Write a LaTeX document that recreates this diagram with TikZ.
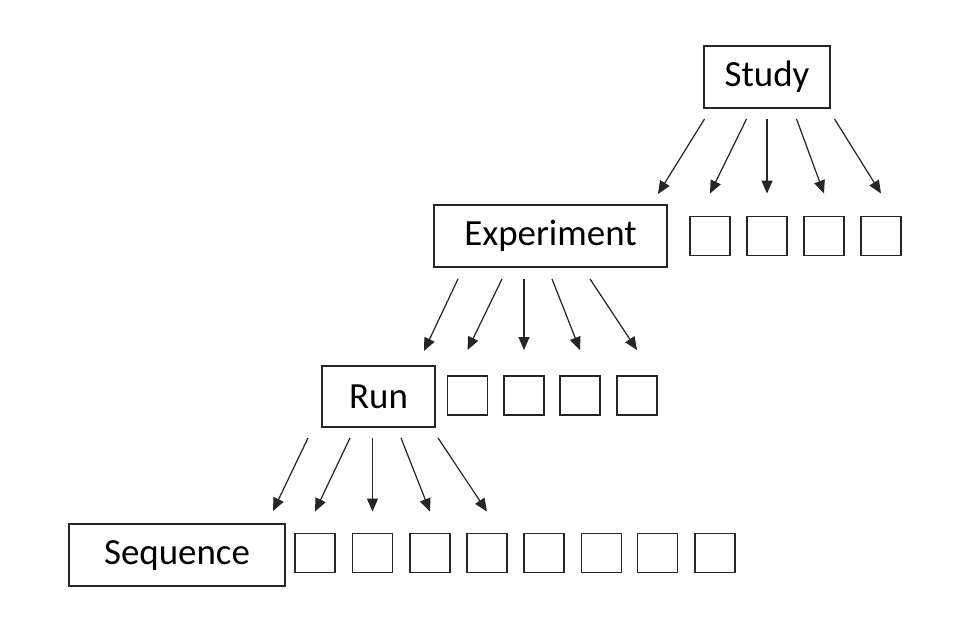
\documentclass[tikz,border=0pt]{standalone}
\usepackage{fontspec}
\setmainfont{Carlito}
\usetikzlibrary{arrows.meta}

\begin{document}
\begin{tikzpicture}[
    level/.style={rectangle, draw=black!85, line width=1.1pt, minimum height=1.24cm, inner sep=0pt, font=\fontsize{21}{25}\selectfont},
    slot/.style={rectangle, draw=black!85, line width=1.1pt, minimum width=0.8cm, minimum height=0.78cm, inner sep=0pt},
    arr/.style={-{Triangle[length=0.26cm, width=0.22cm]}, line width=0.7pt, black!85}
]
\useasboundingbox (0,0) rectangle (19.46,12.6);

% Study
\node[level, minimum width=2.52cm] (study) at (15.34, 11.06) {Study};

% Experiment
\node[level, minimum width=4.66cm] (experiment) at (11.01, 7.88) {Experiment};
\node[slot] (e1) at (14.20, 7.88) {};
\node[slot] (e2) at (15.34, 7.88) {};
\node[slot] (e3) at (16.48, 7.88) {};
\node[slot] (e4) at (17.62, 7.88) {};

% Run
\node[level, minimum width=2.26cm, minimum height=1.22cm] (run) at (7.57, 4.67) {Run};
\node[slot] (r1) at (9.35, 4.69) {};
\node[slot] (r2) at (10.48, 4.69) {};
\node[slot] (r3) at (11.60, 4.69) {};
\node[slot] (r4) at (12.74, 4.69) {};

% Sequence
\node[level, minimum width=4.32cm] (sequence) at (3.54, 1.50) {Sequence};
\node[slot] (q1) at (6.30, 1.54) {};
\node[slot] (q2) at (7.45, 1.54) {};
\node[slot] (q3) at (8.60, 1.54) {};
\node[slot] (q4) at (9.74, 1.54) {};
\node[slot] (q5) at (10.88, 1.54) {};
\node[slot] (q6) at (12.03, 1.54) {};
\node[slot] (q7) at (13.15, 1.54) {};
\node[slot] (q8) at (14.30, 1.54) {};

% Arrows: Study
\draw[arr] ([xshift=-1.25cm, yshift=-0.2cm]study.south) -- ([xshift=-0.2cm, yshift=0.2cm]experiment.north east);
\draw[arr] ([xshift=-0.41cm, yshift=-0.2cm]study.south) -- ([yshift=0.44cm]e1.north);
\draw[arr] ([yshift=-0.2cm]study.south -| e2.north) -- ([yshift=0.44cm]e2.north);
\draw[arr] ([xshift=0.59cm, yshift=-0.2cm]study.south) -- ([yshift=0.44cm]e3.north);
\draw[arr] ([xshift=1.35cm, yshift=-0.2cm]study.south) -- ([yshift=0.44cm]e4.north);

% Arrows: Experiment
\draw[arr] ([xshift=-1.85cm, yshift=-0.22cm]experiment.south) -- ([xshift=-0.24cm, yshift=0.28cm]run.north east);
\draw[arr] ([xshift=-0.97cm, yshift=-0.22cm]experiment.south) -- ([yshift=0.5cm]r1.north);
\draw[arr] ([yshift=-0.22cm]experiment.south -| r2.north) -- ([yshift=0.5cm]r2.north);
\draw[arr] ([xshift=0.03cm, yshift=-0.22cm]experiment.south) -- ([yshift=0.5cm]r3.north);
\draw[arr] ([xshift=0.79cm, yshift=-0.22cm]experiment.south) -- ([yshift=0.5cm]r4.north);

% Arrows: Run
\draw[arr] ([xshift=-1.41cm, yshift=-0.2cm]run.south) -- ([xshift=-0.26cm, yshift=0.24cm]sequence.north east);
\draw[arr] ([xshift=-0.57cm, yshift=-0.2cm]run.south) -- ([yshift=0.42cm]q1.north);
\draw[arr] ([yshift=-0.2cm]run.south -| q2.north) -- ([yshift=0.42cm]q2.north);
\draw[arr] ([xshift=0.45cm, yshift=-0.2cm]run.south) -- ([yshift=0.42cm]q3.north);
\draw[arr] ([xshift=1.19cm, yshift=-0.2cm]run.south) -- ([yshift=0.42cm]q4.north);

\end{tikzpicture}
\end{document}
